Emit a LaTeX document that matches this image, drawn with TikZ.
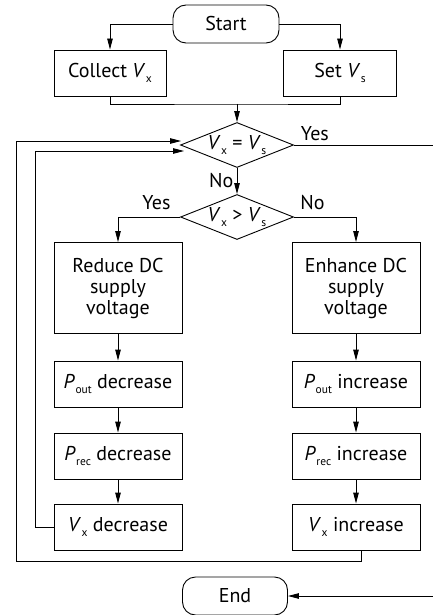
\documentclass[tikz,border=0pt]{standalone}
\usepackage{fontspec}
\setmainfont{PT Sans}
\usepackage{tikz}
\usetikzlibrary{positioning,arrows.meta,calc,shapes.geometric}
\newcommand{\qsym}[2]{\textit{#1}\kern0.5pt\raisebox{-0.55ex}{\fontsize{11.5}{11.5}\selectfont #2}}

\begin{document}
\begin{tikzpicture}[x=1pt,y=-1pt,font=\fontsize{20}{21}\selectfont,
   line width=0.9pt,
   arr/.style={-{Triangle[length=11pt,width=5.5pt]}},
   procbox/.style={draw,align=center,minimum width=128pt,minimum height=46pt,inner sep=2pt},
   termbox/.style={draw,rounded corners=13pt,minimum width=106pt,minimum height=38pt},
   decide/.style={draw,diamond,aspect=2.5,minimum width=113pt,minimum height=45pt,inner sep=0pt}]
  \useasboundingbox (0,0) rectangle (433,615);
  \node[termbox] (start) at (226,24) {Start};
  \node[procbox,minimum width=112pt] (collect) at (110,73) {Collect \qsym{V}{x}};
  \node[procbox,minimum width=113pt] (setv) at (340,73) {Set \qsym{V}{s}};
  \node[decide] (eq) at (237,145) {\qsym{V}{x} = \qsym{V}{s}};
  \node[decide] (gt) at (237,217) {\qsym{V}{x} > \qsym{V}{s}};
  % left branch
  \node[procbox,minimum height=91pt] (reduce) at (118,288) {Reduce DC\\supply\\voltage};
  \node[procbox] (pdec) at (118,384) {\qsym{P}{out} decrease};
  \node[procbox] (rdec) at (118,456) {\qsym{P}{rec} decrease};
  \node[procbox] (vdec) at (118,527) {\qsym{V}{x} decrease};
  % right branch
  \node[procbox,minimum height=91pt] (enhance) at (356,288) {Enhance DC\\supply\\voltage};
  \node[procbox] (pinc) at (356,384) {\qsym{P}{out} increase};
  \node[procbox] (rinc) at (356,456) {\qsym{P}{rec} increase};
  \node[procbox] (vinc) at (356,527) {\qsym{V}{x} increase};
  \node[termbox,minimum width=105pt] (end) at (235,596) {End};
  \coordinate (join) at (237,104);
  \coordinate (exitR) at (433,145);
  \coordinate (endIn) at (433,596);

  \draw[arr] (start.west) -| (collect.north);
  \draw[arr] (start.east) -| (setv.north);
  \draw (collect.south) |- (join) -| (setv.south);
  \draw[arr] (join) -- (eq.north);
  \draw (eq.east) -- (exitR) node[pos=0.15,above] {Yes};
  \draw[arr] (eq.south) -- (gt.north) node[midway,left] {No};
  \draw[arr] (gt.west) -| (reduce.north) node[pos=0.19,above=3pt] {Yes};
  \draw[arr] (gt.east) -| (enhance.north) node[pos=0.15,above=3pt] {No};
  \draw[arr] (reduce) -- (pdec);
  \draw[arr] (pdec) -- (rdec);
  \draw[arr] (rdec) -- (vdec);
  \draw[arr] (enhance) -- (pinc);
  \draw[arr] (pinc) -- (rinc);
  \draw[arr] (rinc) -- (vinc);
  % feedback loops
  \draw[arr] (vdec.west) -| (35,151) -- ([xshift=4pt,yshift=-6pt]eq.west);
  \draw[arr] ([xshift=5pt]vinc.south) |- (16,561) |- ([xshift=1pt,yshift=4pt]eq.west);
  \draw[arr] (endIn) -- (end.east);
\end{tikzpicture}
\end{document}
